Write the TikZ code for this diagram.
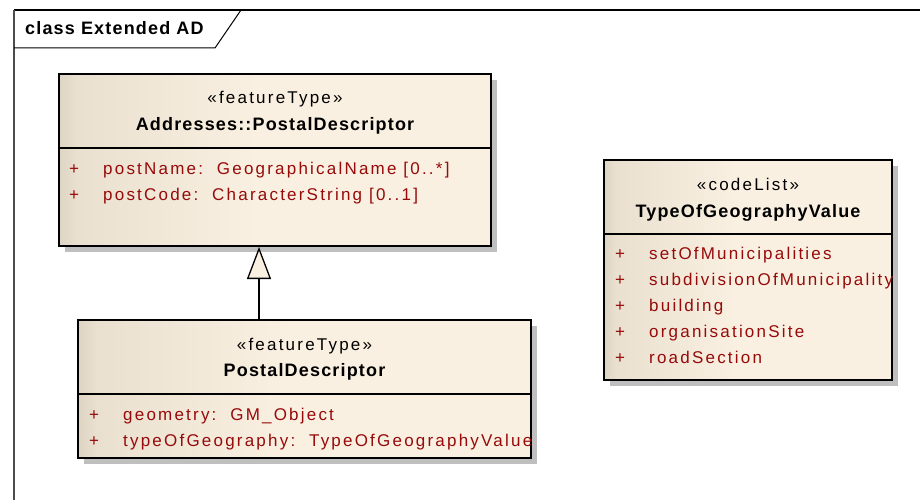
\documentclass[tikz,border=0pt]{standalone}
\usepackage{fontspec}
\setmainfont[LetterSpace=13, BoldFeatures={LetterSpace=6.5}]{Liberation Sans}
\usepackage{xcolor}
\usetikzlibrary{arrows.meta,shadows}

\definecolor{eaLeft}{RGB}{222,212,196}
\definecolor{eaMid}{RGB}{234,224,208}
\definecolor{eaRight}{RGB}{250,240,225}
\definecolor{attrRed}{RGB}{150,10,10}
\pgfdeclarehorizontalshading{eashade}{100bp}{color(0bp)=(eaLeft); color(25bp)=(eaLeft);
  color(27bp)=(eaMid); color(48bp)=(eaRight); color(100bp)=(eaRight)}

\begin{document}
\begin{tikzpicture}[x=1pt,y=-1pt,
  classbox/.style={draw, line width=1.4pt, shading=eashade,
    inner sep=0pt, drop shadow={shadow xshift=6pt, shadow yshift=-6pt, fill=black!25, opacity=1}},
  txt/.style={font=\fontsize{17}{20}\selectfont, inner sep=0pt, anchor=base},
  bold/.style={txt, font=\fontsize{18}{21}\selectfont\bfseries},
  attr/.style={txt, anchor=base west, text=attrRed},
  divider/.style={line width=1.2pt}
]
  \useasboundingbox (0,0) rectangle (920,500);

  \draw[line width=1.3pt] (14,10) -- (920,10);
  \draw[line width=1.3pt, black!70] (14,10) -- (14,500);
  \draw[line width=1pt] (14,48) -- (215,48) -- (241,10);
  \node[bold, anchor=base west] (title) at (25,35) {class Extended AD};

  \node[classbox, minimum width=432pt, minimum height=172pt] (apd) at (275,160) {};
  \draw[divider] (apd.west |- 0,148) -- (apd.east |- 0,148);
  \node[txt] (apdster) at (275,104) {«featureType»};
  \node[bold] (apdname) at (275,130) {Addresses::PostalDescriptor};
  \node[attr] (apdp1) at (69,174) {+};
  \node[attr] (apda1) at (103,174) {postName:\ \ GeographicalName [0..*]};
  \node[attr] (apdp2) at (69,200) {+};
  \node[attr] (apda2) at (103,200) {postCode:\ \ CharacterString [0..1]};

  \node[classbox, minimum width=453pt, minimum height=138pt] (pd) at (304.5,389) {};
  \draw[divider] (pd.west |- 0,394) -- (pd.east |- 0,394);
  \node[txt] (pdster) at (304.5,350) {«featureType»};
  \node[bold] (pdname) at (304.5,376) {PostalDescriptor};
  \node[attr] (pdp1) at (89,420) {+};
  \node[attr] (pda1) at (123,420) {geometry:\ \ GM\_Object};
  \node[attr] (pdp2) at (89,446) {+};
  \node[attr] (pda2) at (123,446) {typeOfGeography:\ \ TypeOfGeographyValue};

  \coordinate (genfrom) at (259,320);
  \coordinate (gento) at (259,247);
  \draw[line width=1.3pt, -{Triangle[length=32pt,width=24pt,fill=eaRight]}] (genfrom) -- (gento);

  \node[classbox, minimum width=288pt, minimum height=220pt] (togv) at (748,270) {};
  \draw[divider] (togv.west |- 0,234) -- (togv.east |- 0,234);
  \node[txt] (togvster) at (748,190) {«codeList»};
  \node[bold] (togvname) at (748,217) {TypeOfGeographyValue};
  \foreach \val [count=\i] in {setOfMunicipalities, subdivisionOfMunicipality, building, organisationSite, roadSection} {
    \node[attr] (togvp\i) at (615,{234+25.8*\i}) {+};
    \node[attr] (togva\i) at (649,{234+25.8*\i}) {\val};
  }
\end{tikzpicture}
\end{document}
